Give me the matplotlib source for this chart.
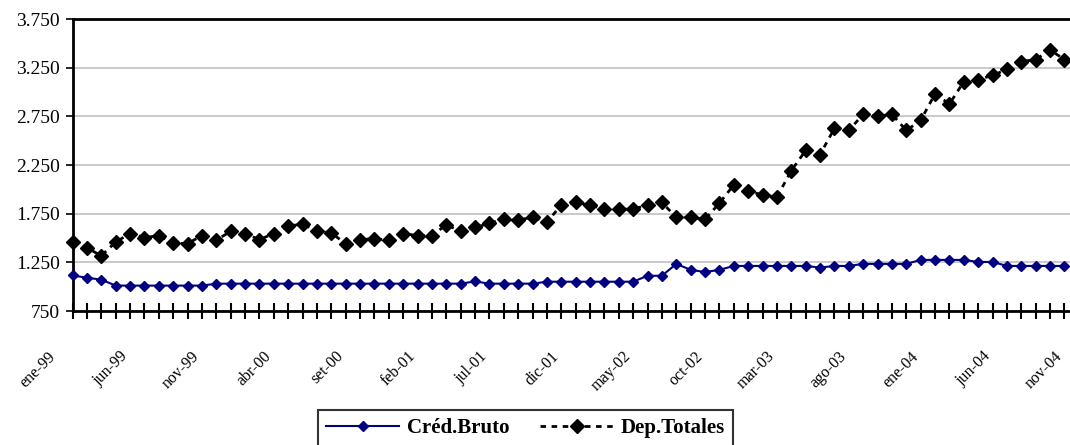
import numpy as np
import matplotlib
matplotlib.use("Agg")
import matplotlib.pyplot as plt
from matplotlib.ticker import FuncFormatter
import matplotlib.transforms as mtrans

plt.rcParams['font.family'] = ['Liberation Serif', 'DejaVu Serif']

# monthly series (millones), ene-99 onwards; chart is cropped at the right edge
cred_bruto = [1115, 1092, 1072, 1011, 1011, 1011, 1011, 1011, 1011, 1011,
              1031, 1031, 1031, 1031, 1031, 1031, 1031, 1031, 1031, 1031,
              1031, 1031, 1031, 1031, 1031, 1031, 1031, 1031, 1054, 1031,
              1031, 1031, 1031, 1051, 1051, 1051, 1051, 1051, 1051, 1051,
              1112, 1112, 1234, 1173, 1150, 1173, 1213, 1213, 1213, 1213,
              1213, 1213, 1196, 1213, 1213, 1234, 1234, 1234, 1234, 1275,
              1275, 1275, 1275, 1254, 1254, 1213, 1213, 1213, 1213, 1213]
dep_totales = [1462, 1400, 1317, 1458, 1546, 1504, 1525, 1448, 1442, 1525,
               1479, 1567, 1546, 1483, 1546, 1622, 1643, 1573, 1552, 1442,
               1483, 1494, 1476, 1546, 1525, 1525, 1636, 1567, 1608, 1650,
               1692, 1685, 1713, 1664, 1838, 1865, 1838, 1796, 1796, 1796,
               1838, 1865, 1713, 1713, 1692, 1858, 2046, 1983, 1942, 1921,
               2192, 2399, 2357, 2626, 2605, 2771, 2750, 2771, 2605, 2709,
               2981, 2876, 3107, 3128, 3170, 3233, 3313, 3333, 3433, 3333]
month_labels = ['ene-99', 'jun-99', 'nov-99', 'abr-00', 'set-00', 'feb-01',
                'jul-01', 'dic-01', 'may-02', 'oct-02', 'mar-03', 'ago-03',
                'ene-04', 'jun-04', 'nov-04']
y_ticks = [750, 1250, 1750, 2250, 2750, 3250, 3750]

x = np.arange(len(dep_totales))

fig = plt.figure(figsize=(10.7, 4.45), dpi=100)
# plot area runs past the right edge of the picture, as in the original crop
ax = fig.add_axes([72.5 / 1070, 1 - 311 / 445, (1086 - 72.5) / 1070, (311 - 19) / 445])

ax.plot(x, cred_bruto, color='#000080', lw=1.5, marker='D', ms=5.5,
        label='Créd.Bruto', clip_on=False, zorder=3)
ax.plot(x, dep_totales, color='black', lw=2, ls=(0, (2, 2)), marker='D', ms=7,
        label='Dep.Totales', clip_on=False, zorder=3)

ax.set_xlim(0, 70.5)
ax.set_ylim(750, 3750)
ax.set_yticks(y_ticks)
ax.yaxis.set_major_formatter(FuncFormatter(lambda v, p: f"{v:,.0f}".replace(",", ".")))
ax.grid(axis='y', color='#c0c0c0', lw=1.2)
ax.set_axisbelow(True)

label_pos = np.arange(len(month_labels)) * 5
ax.set_xticks(label_pos, month_labels)
ax.set_xticks(np.arange(0, 71), minor=True)
ax.tick_params(axis='x', which='both', direction='inout', length=12, width=1.5)
ax.tick_params(axis='x', which='major', pad=25, labelsize=11.5)
for t in ax.get_xticklabels():
    t.set_rotation(45)
    t.set_rotation_mode('anchor')
    t.set_ha('right')
    t.set_va('center')
    t.set_transform(t.get_transform() + mtrans.ScaledTranslation(-0.19, 0, fig.dpi_scale_trans))
ax.tick_params(axis='y', direction='out', length=5, width=1.2, labelsize=14, pad=4)

for s in ['left', 'bottom', 'top']:
    ax.spines[s].set_linewidth(2)
    ax.spines[s].set_color('black')
ax.spines['right'].set_visible(False)

leg = fig.legend(loc='upper center', bbox_to_anchor=(525.5 / 1070, 1 - 410 / 445),
                 ncol=2, frameon=True, fancybox=False, edgecolor='black',
                 handlelength=3.5, columnspacing=1.5, handletextpad=0.35,
                 borderpad=0.4, borderaxespad=0, prop={'weight': 'bold', 'size': 15})
leg.get_frame().set_linewidth(1.5)

plt.savefig('out.png', dpi=100)
